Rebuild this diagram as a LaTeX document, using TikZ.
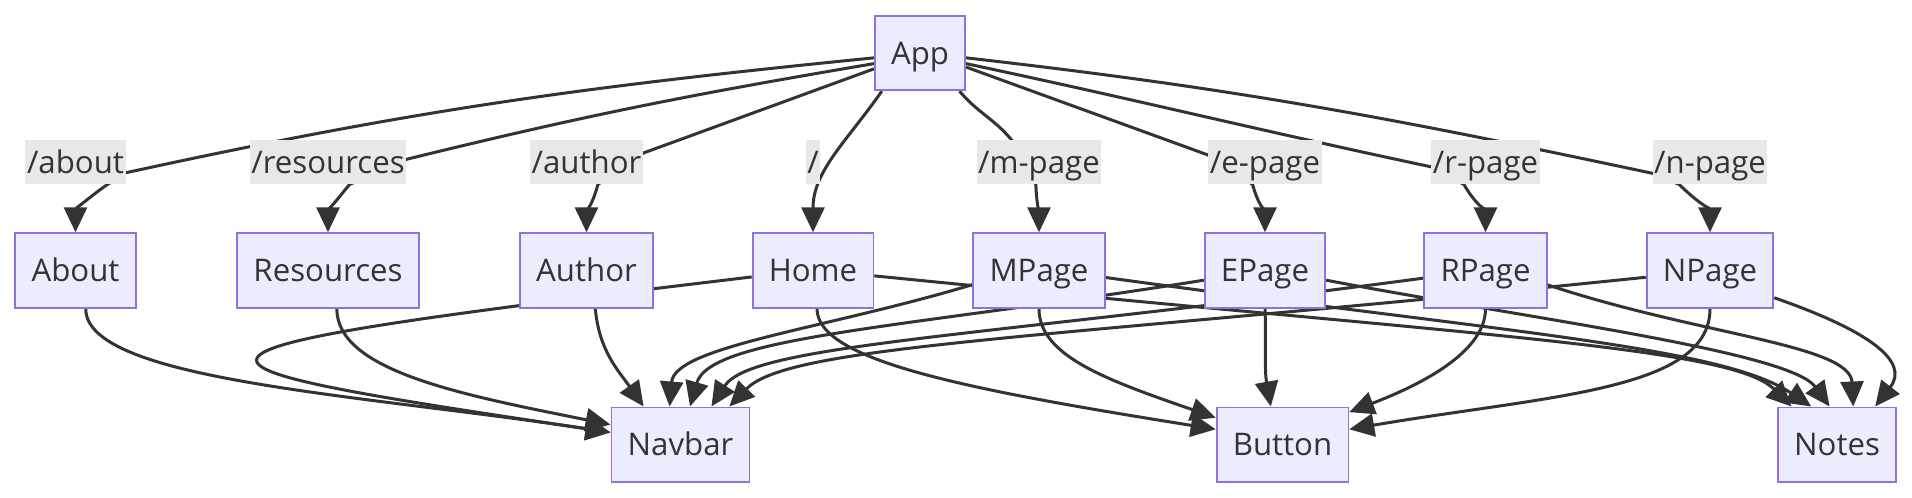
\documentclass[tikz,border=0pt]{standalone}
\usepackage{fontspec}
\setmainfont{Open Sans}
\definecolor{nodefill}{HTML}{ECECFF}
\definecolor{nodeline}{HTML}{9370DB}
\definecolor{wire}{HTML}{333333}
\definecolor{tagfill}{HTML}{E8E8E8}
\usetikzlibrary{arrows.meta,backgrounds}
\tikzset{
  page/.style={draw=nodeline, line width=0.9pt, fill=nodefill, text=wire,
              font=\fontsize{15.6}{19}\selectfont, inner xsep=8.1pt, inner ysep=0pt,
              minimum height=37.3pt, text height=11.2pt, text depth=0pt},
  route/.style={fill=tagfill, text=wire, font=\fontsize{15.6}{19}\selectfont,
              inner xsep=0.8pt, inner ysep=0pt, minimum height=22pt,
              text height=11.8pt, text depth=0pt},
  link/.style={-{Triangle[length=12.5pt,width=11.5pt]}, wire, line width=1.5pt},
}

\begin{document}
\begin{tikzpicture}[x=0.5pt,y=0.5pt]
    \useasboundingbox (0,0) rectangle (1912,-498);
    \node[page] (App) at (920,-53) {App};
    \foreach \n/\t/\x in {About/About/75.5,Resources/Resources/328,Author/Author/586.5,
                          Home/Home/813,MPage/MPage/1039,EPage/EPage/1265,
                          RPage/RPage/1485.5,NPage/NPage/1710}
      \node[page] (\n) at (\x,-270.5) {\t};
    \node[page] (Navbar) at (680.5,-444.7) {Navbar};
    \node[page] (Button) at (1282.5,-444.7) {Button};
    \node[page] (Notes)  at (1837,-444.7) {Notes};
    \node[route] (lAbout) at (75.5,-162)   {/about};
    \node[route] (lRes)   at (328,-162)    {/resources};
    \node[route] (lAuth)  at (586.5,-162)  {/author};
    \node[route] (lHome)  at (813,-162)    {/};
    \node[route] (lM)     at (1039,-162)   {/m-page};
    \node[route] (lE)     at (1265,-162)   {/e-page};
    \node[route] (lR)     at (1485.5,-162) {/r-page};
    \node[route] (lN)     at (1710,-162)   {/n-page};
    \begin{scope}[on background layer]
      % routes out of App
      \draw[link] (App.186) to[out=185.7,in=12.3] (lAbout.-12) -- (lAbout.-35) to[out=215,in=90] (About.north);
      \draw[link] (App.193) to[out=189.6,in=13.8] (lRes.2) -- (lRes.-46) to[out=230,in=90] (Resources.north);
      \draw[link] (App.199) to[out=200,in=20] (lAuth.9) -- (lAuth.-63) to[out=255,in=90] (Author.north);
      \draw[link] (App.225) to[out=235,in=90] (Home.north);
      \draw[link] (App.-44) to[out=-50,in=130] (lM.141) -- (lM.-98) to[out=-88,in=90] (MPage.north);
      \draw[link] (App.-17) to[out=-20,in=160] (lE.173) -- (lE.-119) to[out=-75,in=90] (EPage.north);
      \draw[link] (App.-13) to[out=-12,in=168] (lR.185) -- (lR.-134) to[out=-60,in=90] (RPage.north);
      \draw[link] (App.-6) to[out=-6.5,in=168] (lN.191) -- (lN.-144) to[out=-45,in=90] (NPage.north);
      % pages into the shared parts
      \draw[link] (About.-75) .. controls +(0,-72) and +(-250,38) .. (Navbar.170);
      \draw[link] (Resources.-77) .. controls +(0,-62) and +(-150,30) .. (Navbar.164);
      \draw[link] (Author.-77) to[out=-85,in=125] (Navbar.134);
      \draw[link] (Home.186) .. controls +(-645,-77) and +(-475,71) .. (Navbar.170);
      \draw[link] (Home.-84) .. controls +(0,-52) and +(-250,40) .. (Button.167);
      \draw[link] (Home.-5) .. controls +(600,-60) and +(-60,60) .. (Notes.140);
      \draw[link] (MPage.192) .. controls +(-150,-45) and +(5,60) .. (Navbar.106);
      \draw[link] (MPage.south) .. controls +(0,-47) and +(-110,38) .. (Button.158);
      \draw[link] (MPage.-6) .. controls +(400,-55) and +(-90,60) .. (Notes.124);
      \draw[link] (EPage.189) .. controls +(-300,-48) and +(20,70) .. (Navbar.76);
      \draw[link] (EPage.south) to[out=-88,in=100] (Button.107);
      \draw[link] (EPage.-9) .. controls +(200,-38) and +(-40,55) .. (Notes.101);
      \draw[link] (RPage.187) .. controls +(-450,-60) and +(40,62) .. (Navbar.51);
      \draw[link] (RPage.south) .. controls +(0,-47) and +(60,23) .. (Button.26);
      \draw[link] (RPage.-13) .. controls +(150,-50) and +(-3,62) .. (Notes.67);
      \draw[link] (NPage.186) .. controls +(-600,-62) and +(60,62) .. (Navbar.38);
      \draw[link] (NPage.south) .. controls +(0,-82) and +(200,34) .. (Button.13);
      \draw[link] (NPage.-23) .. controls +(95,-33) and +(35,45) .. (Notes.45);
    \end{scope}
\end{tikzpicture}
\end{document}
